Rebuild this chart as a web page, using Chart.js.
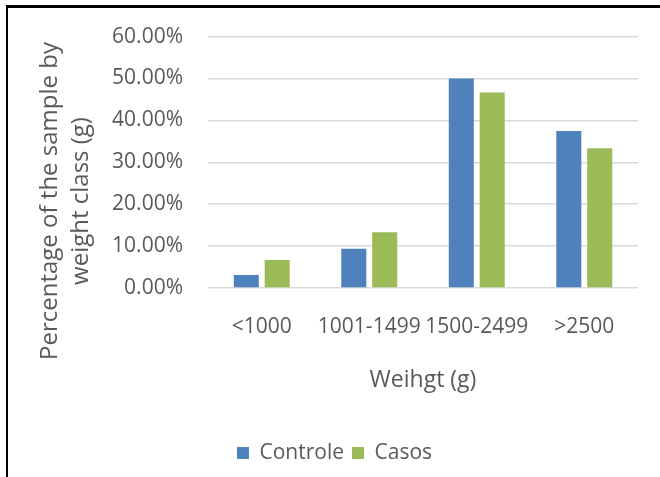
<!DOCTYPE html>
<html>
<head>
<meta charset="utf-8">
<script src="https://cdn.jsdelivr.net/npm/chart.js@4.4.1/dist/chart.umd.min.js"></script>
<style>
  html, body { margin: 0; padding: 0; background: #fff; }
  .frame {
    position: absolute; left: 6px; top: 5px;
    width: 654px; height: 472px;
    border-top: 3px solid #000; border-left: 2px solid #000;
  }
  .frame canvas { position: absolute; left: 0; top: 0; }
</style>
</head>
<body>
<div class="frame">
  <canvas id="chart" width="652" height="469"></canvas>
</div>
<script>
  // chart data (percent of sample per weight class)
  const categories = ["<1000", "1001-1499", "1500-2499", ">2500"];
  const controle = [3.13, 9.38, 50.0, 37.5];
  const casos = [6.67, 13.33, 46.67, 33.33];
  const yTicks = [0, 10, 20, 30, 40, 50, 60];
  const yTitle = ["Percentage of the sample by", "weight class (g)"];
  const xTitle = "Weihgt (g)";

  const grey = "#595959";
  const fam = "'Open Sans', sans-serif";

  // y axis title drawn by hand so it can sit off-centre like the original
  const yTitlePlugin = {
    id: "yTitle",
    afterDraw(chart) {
      const ctx = chart.ctx;
      ctx.save();
      ctx.fillStyle = grey;
      ctx.font = "24px " + fam;
      ctx.textAlign = "center";
      ctx.textBaseline = "middle";
      const xs = [42, 73];
      yTitle.forEach((line, i) => {
        ctx.save();
        ctx.translate(xs[i], 193);
        ctx.rotate(-Math.PI / 2);
        ctx.fillText(line, 0, 0);
        ctx.restore();
      });
      ctx.restore();
    }
  };

  new Chart(document.getElementById("chart"), {
    type: "bar",
    data: {
      labels: categories,
      datasets: [
        { label: "Controle", data: controle, backgroundColor: "#4F81BD",
          categoryPercentage: 0.575, barPercentage: 0.81 },
        { label: "Casos", data: casos, backgroundColor: "#9BBB59",
          categoryPercentage: 0.575, barPercentage: 0.81 }
      ]
    },
    options: {
      responsive: false,
      animation: false,
      layout: { padding: { left: 23, right: 22, top: 28.6, bottom: 3.5 } },
      plugins: {
        legend: {
          position: "bottom",
          labels: {
            color: grey, font: { family: fam, size: 21 },
            boxWidth: 12, boxHeight: 12, padding: 8
          }
        },
        tooltip: { enabled: false }
      },
      scales: {
        x: {
          grid: { display: false, drawTicks: false },
          border: { display: false },
          ticks: {
            color: grey, font: { family: fam, size: 21 },
            padding: 26.5, autoSkip: false, maxRotation: 0
          },
          title: {
            display: true, text: xTitle, color: grey,
            font: { family: fam, size: 23 }, padding: { top: 0, bottom: 40.7 }
          },
          afterFit: (s) => { s.height = 146.5; }
        },
        y: {
          min: 0, max: 60,
          grid: { color: "#D9D9D9", lineWidth: 1.5, drawTicks: false },
          border: { display: false },
          afterBuildTicks: (s) => { s.ticks = yTicks.map(v => ({ value: v })); },
          ticks: {
            color: grey, font: { family: fam, size: 21 }, padding: 25,
            callback: (v) => Number(v).toFixed(2) + "%"
          },
          afterFit: (s) => {
            s.width = 177;
            // tick padding would otherwise push the plot top down
            s.paddingTop = 0;
            s.paddingBottom = 0;
          }
        }
      }
    },
    plugins: [yTitlePlugin]
  });
</script>
</body>
</html>
